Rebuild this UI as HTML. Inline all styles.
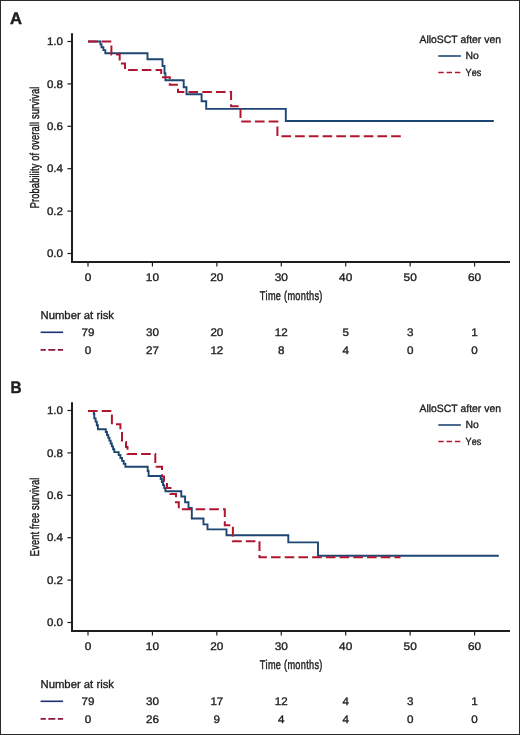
<!DOCTYPE html>
<html><head><meta charset="utf-8"><style>
html,body{margin:0;padding:0;background:#fff;}
body{width:520px;height:735px;overflow:hidden;}
svg{display:block;will-change:transform;}
text{font-kerning:none;text-rendering:geometricPrecision;font-family:"Liberation Sans",sans-serif;fill:#1e1e1e;stroke:#1e1e1e;stroke-width:0.35px;}
.t{font-size:11px;}
.l{font-size:10.6px;}
.c{font-size:12.8px;stroke-width:0.45px;}
.n{font-size:11.3px;}
.h{font-size:16.6px;font-weight:bold;stroke-width:0.45px;}
</style></head><body>
<svg width="520" height="735" viewBox="0 0 520 735">
<rect x="0" y="0" width="520" height="735" fill="#fff"/>
<rect x="0.5" y="0.5" width="519" height="734" fill="none" stroke="#2a2a2a" stroke-width="1"/>
<text x="10.1" y="24.4" class="h">A</text>
<text x="10.6" y="392.8" class="h" textLength="11.1" lengthAdjust="spacingAndGlyphs">B</text>
<line x1="72" y1="33.3" x2="72" y2="263" stroke="#1e1e1e" stroke-width="2"/>
<line x1="71" y1="262" x2="510" y2="262" stroke="#1e1e1e" stroke-width="2"/>
<line x1="67.4" y1="253.50" x2="72" y2="253.50" stroke="#1e1e1e" stroke-width="1.2"/>
<text x="63.00" y="257.15" text-anchor="end" font-size="11" textLength="16.06" lengthAdjust="spacingAndGlyphs">0.0</text>
<line x1="67.4" y1="211.10" x2="72" y2="211.10" stroke="#1e1e1e" stroke-width="1.2"/>
<text x="63.00" y="214.75" text-anchor="end" font-size="11" textLength="16.06" lengthAdjust="spacingAndGlyphs">0.2</text>
<line x1="67.4" y1="168.70" x2="72" y2="168.70" stroke="#1e1e1e" stroke-width="1.2"/>
<text x="63.00" y="172.35" text-anchor="end" font-size="11" textLength="16.06" lengthAdjust="spacingAndGlyphs">0.4</text>
<line x1="67.4" y1="126.30" x2="72" y2="126.30" stroke="#1e1e1e" stroke-width="1.2"/>
<text x="63.00" y="129.95" text-anchor="end" font-size="11" textLength="16.06" lengthAdjust="spacingAndGlyphs">0.6</text>
<line x1="67.4" y1="83.90" x2="72" y2="83.90" stroke="#1e1e1e" stroke-width="1.2"/>
<text x="63.00" y="87.55" text-anchor="end" font-size="11" textLength="16.06" lengthAdjust="spacingAndGlyphs">0.8</text>
<line x1="67.4" y1="41.50" x2="72" y2="41.50" stroke="#1e1e1e" stroke-width="1.2"/>
<text x="63.00" y="45.15" text-anchor="end" font-size="11" textLength="16.06" lengthAdjust="spacingAndGlyphs">1.0</text>
<line x1="88.00" y1="262" x2="88.00" y2="266.5" stroke="#1e1e1e" stroke-width="1.2"/>
<text x="88.00" y="281.00" text-anchor="middle" font-size="11" textLength="6.61" lengthAdjust="spacingAndGlyphs">0</text>
<line x1="152.43" y1="262" x2="152.43" y2="266.5" stroke="#1e1e1e" stroke-width="1.2"/>
<text x="152.43" y="281.00" text-anchor="middle" font-size="11" textLength="13.21" lengthAdjust="spacingAndGlyphs">10</text>
<line x1="216.86" y1="262" x2="216.86" y2="266.5" stroke="#1e1e1e" stroke-width="1.2"/>
<text x="216.86" y="281.00" text-anchor="middle" font-size="11" textLength="13.21" lengthAdjust="spacingAndGlyphs">20</text>
<line x1="281.29" y1="262" x2="281.29" y2="266.5" stroke="#1e1e1e" stroke-width="1.2"/>
<text x="281.29" y="281.00" text-anchor="middle" font-size="11" textLength="13.21" lengthAdjust="spacingAndGlyphs">30</text>
<line x1="345.72" y1="262" x2="345.72" y2="266.5" stroke="#1e1e1e" stroke-width="1.2"/>
<text x="345.72" y="281.00" text-anchor="middle" font-size="11" textLength="13.21" lengthAdjust="spacingAndGlyphs">40</text>
<line x1="410.15" y1="262" x2="410.15" y2="266.5" stroke="#1e1e1e" stroke-width="1.2"/>
<text x="410.15" y="281.00" text-anchor="middle" font-size="11" textLength="13.21" lengthAdjust="spacingAndGlyphs">50</text>
<line x1="474.58" y1="262" x2="474.58" y2="266.5" stroke="#1e1e1e" stroke-width="1.2"/>
<text x="474.58" y="281.00" text-anchor="middle" font-size="11" textLength="13.21" lengthAdjust="spacingAndGlyphs">60</text>
<text transform="translate(291 299.7) scale(0.72 1)" text-anchor="middle" class="c" textLength="87.08" lengthAdjust="spacing">Time (months)</text>
<text transform="translate(38.5 147.5) rotate(-90) scale(0.72 1)" text-anchor="middle" class="c" textLength="168.75" lengthAdjust="spacing">Probability of overall survival</text>
<text x="419.5" y="43" class="l" textLength="81.5" lengthAdjust="spacingAndGlyphs">AlloSCT after ven</text>
<line x1="438.3" y1="56" x2="460.9" y2="56" stroke="#1d4672" stroke-width="1.6"/>
<text x="465.50" y="59.00" font-size="10.4" textLength="13.29" lengthAdjust="spacingAndGlyphs">No</text>
<line x1="438.3" y1="72.5" x2="460.9" y2="72.5" stroke="#b11631" stroke-width="1.6" stroke-dasharray="5.4 2.9"/>
<text x="465.60" y="76.10" font-size="10.4" textLength="15.61" lengthAdjust="spacingAndGlyphs">Yes</text>
<path d="M88,41.5 H100.4 V44.4 H101.5 V47.2 H103.4 V50.1 H105.3 V53.2 H147.5 V59.2 H162.5 V66 H164.5 V73.3 H165.4 V80.2 H183.7 V87.2 H186.5 V94.2 H201.6 V101.3 H206.2 V108.9 H285.8 V121 H493.8" fill="none" stroke="#1d4672" stroke-width="1.9"/>
<path d="M88,41.5 H111.4 V54.6 H119.7 V63.5 H125 V70 H161.2 V77.3 H169.8 V84.7 H178 V91.9 H231.1 V106.3 H240.5 V121.5 H277.4 V136.2 H401.5" fill="none" stroke="#b11631" stroke-width="2" stroke-dasharray="9.6 4.12"/>
<text x="40.50" y="318.70" font-size="11.3" textLength="73.47" lengthAdjust="spacingAndGlyphs">Number at risk</text>
<line x1="40.6" y1="332.3" x2="63.1" y2="332.3" stroke="#1e3070" stroke-width="1.6"/>
<line x1="40.6" y1="349.9" x2="63.1" y2="349.9" stroke="#8e1538" stroke-width="1.6" stroke-dasharray="7 2.5" stroke-dashoffset="1.8"/>
<text x="88.00" y="336.00" text-anchor="middle" font-size="11" textLength="12.97" lengthAdjust="spacingAndGlyphs">79</text>
<text x="88.00" y="353.60" text-anchor="middle" font-size="11" textLength="6.48" lengthAdjust="spacingAndGlyphs">0</text>
<text x="152.43" y="336.00" text-anchor="middle" font-size="11" textLength="12.97" lengthAdjust="spacingAndGlyphs">30</text>
<text x="152.43" y="353.60" text-anchor="middle" font-size="11" textLength="12.97" lengthAdjust="spacingAndGlyphs">27</text>
<text x="216.86" y="336.00" text-anchor="middle" font-size="11" textLength="12.97" lengthAdjust="spacingAndGlyphs">20</text>
<text x="216.86" y="353.60" text-anchor="middle" font-size="11" textLength="12.97" lengthAdjust="spacingAndGlyphs">12</text>
<text x="281.29" y="336.00" text-anchor="middle" font-size="11" textLength="12.97" lengthAdjust="spacingAndGlyphs">12</text>
<text x="281.29" y="353.60" text-anchor="middle" font-size="11" textLength="6.48" lengthAdjust="spacingAndGlyphs">8</text>
<text x="345.72" y="336.00" text-anchor="middle" font-size="11" textLength="6.48" lengthAdjust="spacingAndGlyphs">5</text>
<text x="345.72" y="353.60" text-anchor="middle" font-size="11" textLength="6.48" lengthAdjust="spacingAndGlyphs">4</text>
<text x="410.15" y="336.00" text-anchor="middle" font-size="11" textLength="6.48" lengthAdjust="spacingAndGlyphs">3</text>
<text x="410.15" y="353.60" text-anchor="middle" font-size="11" textLength="6.48" lengthAdjust="spacingAndGlyphs">0</text>
<text x="474.58" y="336.00" text-anchor="middle" font-size="11" textLength="6.48" lengthAdjust="spacingAndGlyphs">1</text>
<text x="474.58" y="353.60" text-anchor="middle" font-size="11" textLength="6.48" lengthAdjust="spacingAndGlyphs">0</text>
<line x1="72" y1="402.3" x2="72" y2="632" stroke="#1e1e1e" stroke-width="2"/>
<line x1="71" y1="631" x2="510" y2="631" stroke="#1e1e1e" stroke-width="2"/>
<line x1="67.4" y1="622.50" x2="72" y2="622.50" stroke="#1e1e1e" stroke-width="1.2"/>
<text x="63.00" y="626.15" text-anchor="end" font-size="11" textLength="16.06" lengthAdjust="spacingAndGlyphs">0.0</text>
<line x1="67.4" y1="580.10" x2="72" y2="580.10" stroke="#1e1e1e" stroke-width="1.2"/>
<text x="63.00" y="583.75" text-anchor="end" font-size="11" textLength="16.06" lengthAdjust="spacingAndGlyphs">0.2</text>
<line x1="67.4" y1="537.70" x2="72" y2="537.70" stroke="#1e1e1e" stroke-width="1.2"/>
<text x="63.00" y="541.35" text-anchor="end" font-size="11" textLength="16.06" lengthAdjust="spacingAndGlyphs">0.4</text>
<line x1="67.4" y1="495.30" x2="72" y2="495.30" stroke="#1e1e1e" stroke-width="1.2"/>
<text x="63.00" y="498.95" text-anchor="end" font-size="11" textLength="16.06" lengthAdjust="spacingAndGlyphs">0.6</text>
<line x1="67.4" y1="452.90" x2="72" y2="452.90" stroke="#1e1e1e" stroke-width="1.2"/>
<text x="63.00" y="456.55" text-anchor="end" font-size="11" textLength="16.06" lengthAdjust="spacingAndGlyphs">0.8</text>
<line x1="67.4" y1="410.50" x2="72" y2="410.50" stroke="#1e1e1e" stroke-width="1.2"/>
<text x="63.00" y="414.15" text-anchor="end" font-size="11" textLength="16.06" lengthAdjust="spacingAndGlyphs">1.0</text>
<line x1="88.00" y1="631" x2="88.00" y2="635.5" stroke="#1e1e1e" stroke-width="1.2"/>
<text x="88.00" y="650.00" text-anchor="middle" font-size="11" textLength="6.61" lengthAdjust="spacingAndGlyphs">0</text>
<line x1="152.43" y1="631" x2="152.43" y2="635.5" stroke="#1e1e1e" stroke-width="1.2"/>
<text x="152.43" y="650.00" text-anchor="middle" font-size="11" textLength="13.21" lengthAdjust="spacingAndGlyphs">10</text>
<line x1="216.86" y1="631" x2="216.86" y2="635.5" stroke="#1e1e1e" stroke-width="1.2"/>
<text x="216.86" y="650.00" text-anchor="middle" font-size="11" textLength="13.21" lengthAdjust="spacingAndGlyphs">20</text>
<line x1="281.29" y1="631" x2="281.29" y2="635.5" stroke="#1e1e1e" stroke-width="1.2"/>
<text x="281.29" y="650.00" text-anchor="middle" font-size="11" textLength="13.21" lengthAdjust="spacingAndGlyphs">30</text>
<line x1="345.72" y1="631" x2="345.72" y2="635.5" stroke="#1e1e1e" stroke-width="1.2"/>
<text x="345.72" y="650.00" text-anchor="middle" font-size="11" textLength="13.21" lengthAdjust="spacingAndGlyphs">40</text>
<line x1="410.15" y1="631" x2="410.15" y2="635.5" stroke="#1e1e1e" stroke-width="1.2"/>
<text x="410.15" y="650.00" text-anchor="middle" font-size="11" textLength="13.21" lengthAdjust="spacingAndGlyphs">50</text>
<line x1="474.58" y1="631" x2="474.58" y2="635.5" stroke="#1e1e1e" stroke-width="1.2"/>
<text x="474.58" y="650.00" text-anchor="middle" font-size="11" textLength="13.21" lengthAdjust="spacingAndGlyphs">60</text>
<text transform="translate(291 668.7) scale(0.72 1)" text-anchor="middle" class="c" textLength="87.08" lengthAdjust="spacing">Time (months)</text>
<text transform="translate(38.5 516.9) rotate(-90) scale(0.72 1)" text-anchor="middle" class="c" textLength="109.03" lengthAdjust="spacing">Event free survival</text>
<text x="419.5" y="412" class="l" textLength="81.5" lengthAdjust="spacingAndGlyphs">AlloSCT after ven</text>
<line x1="438.3" y1="425" x2="460.9" y2="425" stroke="#1d4672" stroke-width="1.6"/>
<text x="465.50" y="428.00" font-size="10.4" textLength="13.29" lengthAdjust="spacingAndGlyphs">No</text>
<line x1="438.3" y1="441.5" x2="460.9" y2="441.5" stroke="#b11631" stroke-width="1.6" stroke-dasharray="5.4 2.9"/>
<text x="465.60" y="445.10" font-size="10.4" textLength="15.61" lengthAdjust="spacingAndGlyphs">Yes</text>
<path d="M88,411 H93.8 V414 H94.3 V418.4 H95.6 V421.6 H96.8 V425.3 H97.9 V429.2 H105.8 V432.06 H107.01 V434.93 H108.23 V437.79 H109.44 V440.65 H110.66 V443.51 H111.87 V446.38 H113.09 V449.24 H114.30 V452.10 H118.7 V455.02 H120.38 V457.94 H122.05 V460.86 H123.72 V463.78 H125.40 V466.70 H147.7 V471 H148.6 V476 H160.7 V479.04 H161.88 V482.08 H163.05 V485.12 H164.23 V488.16 H165.40 V491.20 H181.3 V496.5 H185.1 V502.3 H188.5 V508 H191.8 V518.5 H203.5 V524.4 H207.5 V529.4 H226.5 V535.2 H288.3 V542.4 H318 V555.8 H498.8" fill="none" stroke="#1d4672" stroke-width="1.9"/>
<path d="M88,411 H111.9 V424.2 H120.4 V431 H122 V442 H126 V447 H127.5 V453.9 H155.3 V466.8 H162 V476.5 H164 V482 H167 V488 H170.5 V494.1 H176 V502.3 H178.8 V509.2 H224.8 V525.2 H232.9 V541.3 H259.5 V557.3 H400.5" fill="none" stroke="#b11631" stroke-width="2" stroke-dasharray="9.6 4.12"/>
<text x="40.50" y="687.70" font-size="11.3" textLength="73.47" lengthAdjust="spacingAndGlyphs">Number at risk</text>
<line x1="40.6" y1="701.3" x2="63.1" y2="701.3" stroke="#1e3070" stroke-width="1.6"/>
<line x1="40.6" y1="718.9" x2="63.1" y2="718.9" stroke="#8e1538" stroke-width="1.6" stroke-dasharray="7 2.5" stroke-dashoffset="1.8"/>
<text x="88.00" y="705.00" text-anchor="middle" font-size="11" textLength="12.97" lengthAdjust="spacingAndGlyphs">79</text>
<text x="88.00" y="722.60" text-anchor="middle" font-size="11" textLength="6.48" lengthAdjust="spacingAndGlyphs">0</text>
<text x="152.43" y="705.00" text-anchor="middle" font-size="11" textLength="12.97" lengthAdjust="spacingAndGlyphs">30</text>
<text x="152.43" y="722.60" text-anchor="middle" font-size="11" textLength="12.97" lengthAdjust="spacingAndGlyphs">26</text>
<text x="216.86" y="705.00" text-anchor="middle" font-size="11" textLength="12.97" lengthAdjust="spacingAndGlyphs">17</text>
<text x="216.86" y="722.60" text-anchor="middle" font-size="11" textLength="6.48" lengthAdjust="spacingAndGlyphs">9</text>
<text x="281.29" y="705.00" text-anchor="middle" font-size="11" textLength="12.97" lengthAdjust="spacingAndGlyphs">12</text>
<text x="281.29" y="722.60" text-anchor="middle" font-size="11" textLength="6.48" lengthAdjust="spacingAndGlyphs">4</text>
<text x="345.72" y="705.00" text-anchor="middle" font-size="11" textLength="6.48" lengthAdjust="spacingAndGlyphs">4</text>
<text x="345.72" y="722.60" text-anchor="middle" font-size="11" textLength="6.48" lengthAdjust="spacingAndGlyphs">4</text>
<text x="410.15" y="705.00" text-anchor="middle" font-size="11" textLength="6.48" lengthAdjust="spacingAndGlyphs">3</text>
<text x="410.15" y="722.60" text-anchor="middle" font-size="11" textLength="6.48" lengthAdjust="spacingAndGlyphs">0</text>
<text x="474.58" y="705.00" text-anchor="middle" font-size="11" textLength="6.48" lengthAdjust="spacingAndGlyphs">1</text>
<text x="474.58" y="722.60" text-anchor="middle" font-size="11" textLength="6.48" lengthAdjust="spacingAndGlyphs">0</text>
</svg>
</body></html>
